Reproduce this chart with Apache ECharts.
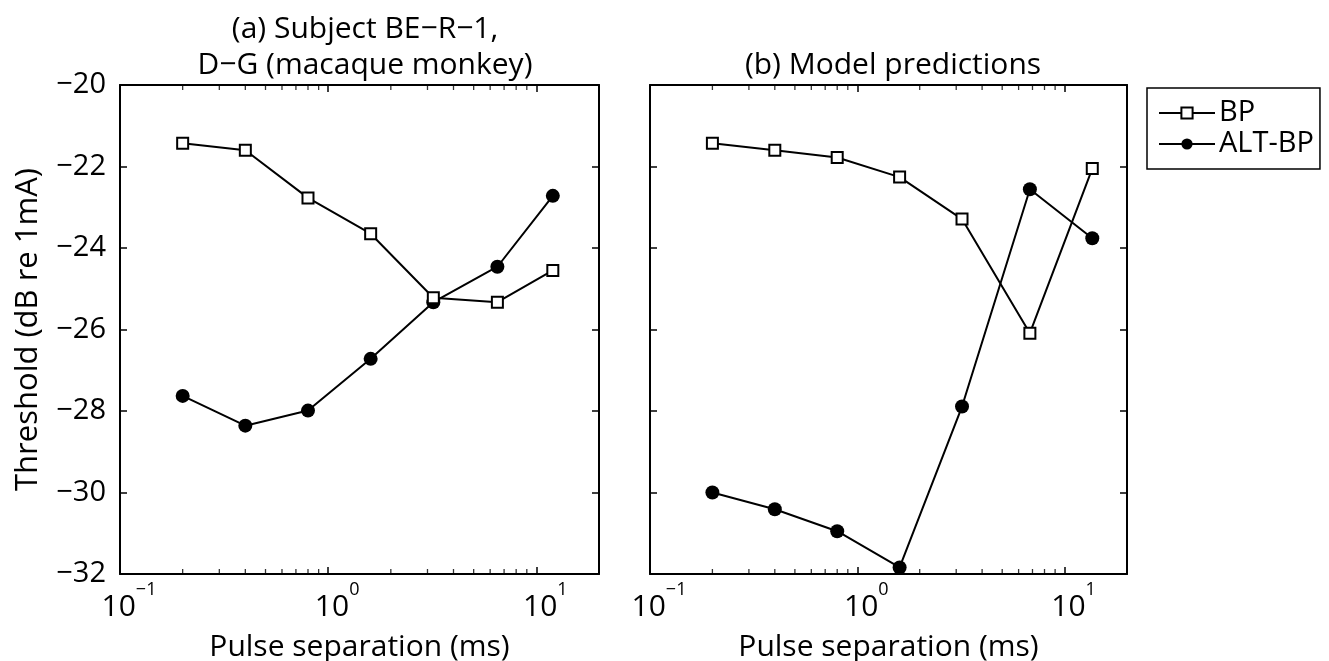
<!DOCTYPE html>
<html>
<head>
<meta charset="utf-8">
<script src="https://cdn.jsdelivr.net/npm/echarts@6/dist/echarts.min.js"></script>
<style>html,body{margin:0;padding:0;background:#fff}#c{width:1329px;height:661px}</style>
</head>
<body>
<div id="c"></div>
<script>
// ---- data ----
const xA = [0.2, 0.4, 0.8, 1.6, 3.2, 6.5, 12];
const bpA = [-21.43, -21.6, -22.77, -23.65, -25.22, -25.33, -24.55];
const altA = [-27.63, -28.36, -27.99, -26.72, -25.33, -24.46, -22.72];
const xB = [0.2, 0.4, 0.8, 1.6, 3.2, 6.8, 13.6];
const bpB = [-21.43, -21.6, -21.78, -22.26, -23.29, -26.09, -22.05];
const altB = [-30.0, -30.41, -30.95, -31.84, -27.89, -22.56, -23.76];
const minorTicks = [0.2, 0.3, 0.4, 0.5, 0.6, 0.7, 0.8, 0.9, 2, 3, 4, 5, 6, 7, 8, 9];
const yRange = [-32, -20];
const seriesNames = ['BP', 'ALT-BP'];
const titleA = '(a) Subject BE\u2212R\u22121,\nD\u2212G (macaque monkey)';
const titleB = '(b) Model predictions';
const xName = 'Pulse separation (ms)';
const yName = 'Threshold (dB re 1mA)';

const FONT = 'Open Sans';
const pair = (xs, ys) => xs.map((x, i) => [x, ys[i]]);

const axisLineStyle = { show: true, onZero: false, lineStyle: { color: '#000', width: 2 } };
const tickStyle = { show: true, inside: true, length: 7, lineStyle: { color: '#000', width: 1.5 } };

function xAxis(grid, pos, labels) {
  return {
    type: 'log', logBase: 10, min: 0.1, max: 20, gridIndex: grid, position: pos,
    axisLine: axisLineStyle, axisTick: tickStyle, splitLine: { show: false },
    axisLabel: labels ? {
      show: true, margin: 6, color: '#000', showMaxLabel: false,
      formatter: v => {
        const l = Math.log10(v);
        const e = Math.round(l);
        if (Math.abs(l - e) > 1e-6) return '';
        return '{b|10}{s|' + (e < 0 ? '\u2212' : '') + Math.abs(e) + '}';
      },
      rich: {
        b: { fontSize: 30, fontFamily: FONT, color: '#000', padding: [12, 0, 0, 18] },
        s: { fontSize: 18, fontFamily: FONT, color: '#000', padding: [0, 0, 22, 0] }
      }
    } : { show: false },
    name: labels ? xName : '', nameLocation: 'middle', nameGap: 58,
    nameTextStyle: { fontSize: 30, fontFamily: FONT, color: '#000' }
  };
}
function yAxis(grid, pos, labels, named) {
  return {
    type: 'value', min: yRange[0], max: yRange[1], interval: 2, gridIndex: grid, position: pos,
    axisLine: axisLineStyle, axisTick: tickStyle, splitLine: { show: false },
    axisLabel: labels ? {
      show: true, margin: 14, color: '#000', fontSize: 29, fontFamily: FONT,
      formatter: v => String(v).replace('-', '\u2212')
    } : { show: false },
    name: named ? yName : '', nameLocation: 'middle', nameGap: 76,
    nameTextStyle: { fontSize: 31, fontFamily: FONT, color: '#000' }
  };
}

// minor ticks of the log axis, drawn as tiny marks at the plot edges
function minorSeries(xi, yi, yv, offset) {
  return {
    type: 'scatter', xAxisIndex: xi, yAxisIndex: yi, silent: true, z: 10, clip: false,
    symbol: 'rect', symbolSize: [1.3, 5], symbolOffset: [0, offset],
    itemStyle: { color: '#000' },
    data: minorTicks.map(v => [v, yv])
  };
}

function bpSeries(xi, yi, data) {
  return {
    name: seriesNames[0], type: 'line', xAxisIndex: xi, yAxisIndex: yi, data: data,
    symbol: 'rect', symbolSize: 11, z: 3,
    lineStyle: { color: '#000', width: 2 },
    itemStyle: { color: '#fff', borderColor: '#000', borderWidth: 2 }
  };
}
function altSeries(xi, yi, data) {
  return {
    name: seriesNames[1], type: 'line', xAxisIndex: xi, yAxisIndex: yi, data: data,
    symbol: 'circle', symbolSize: 14, z: 2,
    lineStyle: { color: '#000', width: 2 },
    itemStyle: { color: '#000', borderColor: '#000', borderWidth: 0 }
  };
}

const chart = echarts.init(document.getElementById('c'), null, { renderer: 'canvas' });
chart.setOption({
  backgroundColor: '#fff',
  animation: false,
  textStyle: { fontFamily: FONT },
  title: [
    { text: titleA, left: 360, top: 6, textAlign: 'center',
      textStyle: { fontSize: 30, fontWeight: 'normal', fontFamily: FONT, color: '#000', lineHeight: 36 } },
    { text: titleB, left: 888, top: 42, textAlign: 'center',
      textStyle: { fontSize: 30, fontWeight: 'normal', fontFamily: FONT, color: '#000', lineHeight: 36 } }
  ],
  legend: {
    data: seriesNames, orient: 'vertical', left: 1147, top: 88,
    borderColor: '#000', borderWidth: 1.5, borderRadius: 0,
    padding: [10, 6, 10, 11], itemGap: 1, itemWidth: 56, itemHeight: 14,
    textStyle: { fontSize: 29, lineHeight: 30, fontFamily: FONT, color: '#000', padding: [0, 0, 0, -1] },
    selectedMode: false
  },
  grid: [
    { left: 120, top: 85, width: 479, height: 489, containLabel: false, outerBoundsMode: 'none' },
    { left: 650, top: 85, width: 477, height: 489, containLabel: false, outerBoundsMode: 'none' }
  ],
  xAxis: [xAxis(0, 'bottom', true), xAxis(0, 'top', false), xAxis(1, 'bottom', true), xAxis(1, 'top', false)],
  yAxis: [yAxis(0, 'left', true, true), yAxis(0, 'right', false, false), yAxis(1, 'left', false, false), yAxis(1, 'right', false, false)],
  series: [
    minorSeries(0, 0, yRange[0], -2.5), minorSeries(0, 0, yRange[1], 2.5),
    minorSeries(2, 2, yRange[0], -2.5), minorSeries(2, 2, yRange[1], 2.5),
    bpSeries(0, 0, pair(xA, bpA)), altSeries(0, 0, pair(xA, altA)),
    bpSeries(2, 2, pair(xB, bpB)), altSeries(2, 2, pair(xB, altB))
  ]
});
</script>
</body>
</html>
